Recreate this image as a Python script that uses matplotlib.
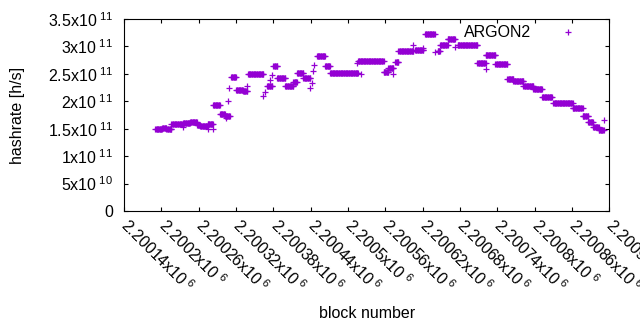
import numpy as np
import matplotlib
matplotlib.use("Agg")
import matplotlib.pyplot as plt

plt.rcParams['font.family'] = ['Liberation Sans', 'DejaVu Sans']
plt.rcParams['font.size'] = 11.5
plt.rcParams['mathtext.fontset'] = 'custom'
plt.rcParams['mathtext.rm'] = 'Liberation Sans'
plt.rcParams['mathtext.it'] = 'Liberation Sans:italic'

# plateaus: first block, last block, hashrate (x1e11 h/s)
run_start = [2200190, 2200201, 2200208, 2200216, 2200235, 2200235, 2200246, 2200257,
             2200262, 2200274, 2200274, 2200283, 2200283, 2200294, 2200302, 2200303,
             2200307, 2200309, 2200312, 2200320, 2200331, 2200338, 2200339, 2200364,
             2200367, 2200370, 2200375, 2200378, 2200380, 2200386, 2200399, 2200412,
             2200418, 2200428, 2200439, 2200442, 2200444, 2200446, 2200450, 2200463,
             2200471, 2200515, 2200516, 2200520, 2200557, 2200565, 2200573, 2200576,
             2200581, 2200605, 2200608, 2200621, 2200624, 2200640, 2200644, 2200648,
             2200660, 2200672, 2200676, 2200708, 2200721, 2200721, 2200737, 2200756,
             2200766, 2200782, 2200798, 2200812, 2200830, 2200861, 2200877, 2200886,
             2200894, 2200903, 2200911]
run_end = [2200201, 2200208, 2200216, 2200235, 2200235, 2200246, 2200257, 2200262,
           2200274, 2200283, 2200274, 2200283, 2200294, 2200302, 2200310, 2200303,
           2200307, 2200309, 2200320, 2200331, 2200338, 2200338, 2200364, 2200364,
           2200367, 2200378, 2200375, 2200378, 2200386, 2200399, 2200412, 2200418,
           2200428, 2200439, 2200439, 2200442, 2200444, 2200446, 2200463, 2200471,
           2200516, 2200515, 2200557, 2200520, 2200565, 2200573, 2200573, 2200581,
           2200605, 2200605, 2200621, 2200621, 2200639, 2200640, 2200648, 2200660,
           2200672, 2200672, 2200708, 2200721, 2200721, 2200737, 2200756, 2200766,
           2200782, 2200798, 2200812, 2200828, 2200861, 2200877, 2200886, 2200894,
           2200903, 2200911, 2200911]
run_hashrate = [1.50, 1.52, 1.49, 1.58, 1.53, 1.60, 1.63, 1.57,
                1.55, 1.58, 1.49, 1.49, 1.93, 1.77, 1.73, 1.70,
                2.00, 2.24, 2.45, 2.21, 2.19, 2.28, 2.50, 2.10,
                2.17, 2.28, 2.39, 2.48, 2.64, 2.42, 2.28, 2.35,
                2.52, 2.42, 2.24, 2.33, 2.55, 2.66, 2.83, 2.64,
                2.51, 2.70, 2.73, 2.50, 2.53, 2.61, 2.50, 2.72,
                2.92, 3.03, 2.94, 2.97, 3.23, 2.90, 2.92, 3.02,
                3.14, 2.99, 3.02, 2.70, 2.59, 2.84, 2.68, 2.41,
                2.37, 2.28, 2.23, 2.07, 1.96, 1.87, 1.73, 1.62,
                1.53, 1.48, 1.66]

xtick_values = [2200140, 2200200, 2200260, 2200320, 2200380, 2200440, 2200500,
                2200560, 2200620, 2200680, 2200740, 2200800, 2200860, 2200920]
xtick_labels = ['2.20014x10$^{\\ 6}$', '2.2002x10$^{\\ 6}$', '2.20026x10$^{\\ 6}$',
                '2.20032x10$^{\\ 6}$', '2.20038x10$^{\\ 6}$', '2.20044x10$^{\\ 6}$',
                '2.2005x10$^{\\ 6}$', '2.20056x10$^{\\ 6}$', '2.20062x10$^{\\ 6}$',
                '2.20068x10$^{\\ 6}$', '2.20074x10$^{\\ 6}$', '2.2008x10$^{\\ 6}$',
                '2.20086x10$^{\\ 6}$', '2.20092x10$^{\\ 6}$']
ytick_values = [0, 0.5e11, 1e11, 1.5e11, 2e11, 2.5e11, 3e11, 3.5e11]
ytick_labels = ['0', '5x10$^{\\ 10}$', '1x10$^{\\ 11}$', '1.5x10$^{\\ 11}$', '2x10$^{\\ 11}$',
                '2.5x10$^{\\ 11}$', '3x10$^{\\ 11}$', '3.5x10$^{\\ 11}$']

blocks = []
hashrate = []
for s, e, h in zip(run_start, run_end, run_hashrate):
    for b in range(s, e + 1):
        blocks.append(b)
        hashrate.append(h * 1e11)

fig = plt.figure(figsize=(6.4, 3.3), dpi=100)
ax = fig.add_axes([0.194, 0.3606, 0.758, 0.5818])
ax.plot(blocks, hashrate, '+', color='#9400D3', markersize=5, markeredgewidth=0.9,
        label='ARGON2')

ax.set_xlim(2200140, 2200920)
ax.set_ylim(0, 3.5e11)
ax.set_xticks(xtick_values)
ax.set_xticklabels(xtick_labels, rotation=-45, ha='left', va='center',
                   rotation_mode='anchor')
ax.set_yticks(ytick_values)
ax.set_yticklabels(ytick_labels)
ax.tick_params(direction='in', length=3, width=0.8, top=True, right=True)
ax.tick_params(axis='y', pad=8)
ax.tick_params(axis='x', pad=8)
ax.set_ylabel('hashrate [h/s]')
ax.yaxis.set_label_coords(-0.204, 0.5)
ax.set_xlabel('block number')
ax.xaxis.set_label_coords(0.5, -0.495)
ax.legend(loc='upper right', bbox_to_anchor=(0.96, 1.0), borderaxespad=0,
          frameon=False, markerfirst=False, handlelength=2, handletextpad=1.3)

fig.savefig('out.png', dpi=100)
